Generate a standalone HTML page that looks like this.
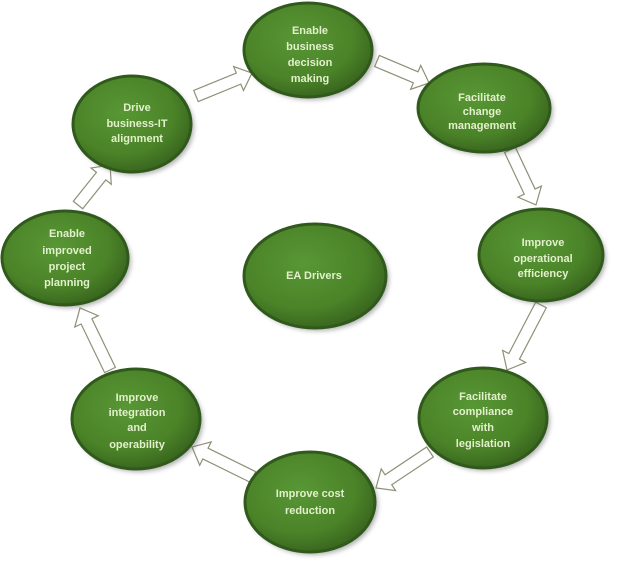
<!DOCTYPE html>
<html>
<head>
<meta charset="utf-8">
<style>
  html, body { margin:0; padding:0; background:#ffffff; }
  svg { display:block; }
  text { font-family: "Liberation Sans", sans-serif; font-weight:bold; font-size:11px; fill:#e2f0cc; text-anchor:middle; }
  .arrow { fill:#ffffff; stroke:#8d9177; stroke-width:1.2; }
</style>
</head>
<body>
<svg width="618" height="562" viewBox="0 0 618 562" xmlns="http://www.w3.org/2000/svg">
  <defs>
    <radialGradient id="g" cx="42%" cy="38%" r="62%">
      <stop offset="0%" stop-color="#589735"/>
      <stop offset="70%" stop-color="#4b8328"/>
      <stop offset="100%" stop-color="#3a681f"/>
    </radialGradient>
    <filter id="sh" x="-20%" y="-20%" width="140%" height="140%">
      <feGaussianBlur stdDeviation="2.5"/>
    </filter>
  </defs>

  <!-- arrows -->
  <g transform="translate(196,96) rotate(-22.3)"><polygon class="arrow" points="0,-6 46,-6 46,-13 60.5,0 46,13 46,6 0,6"/></g>
  <g transform="translate(377,61) rotate(22.9)"><polygon class="arrow" points="0,-6 42,-6 42,-13 56.5,0 42,13 42,6 0,6"/></g>
  <g transform="translate(510,150) rotate(64.7)"><polygon class="arrow" points="0,-6 46,-6 46,-13 60.8,0 46,13 46,6 0,6"/></g>
  <g transform="translate(541,305) rotate(117.6)"><polygon class="arrow" points="0,-6 58,-6 58,-13 73.4,0 58,13 58,6 0,6"/></g>
  <g transform="translate(430,452) rotate(146.3)"><polygon class="arrow" points="0,-6 50,-6 50,-13 64.9,0 50,13 50,6 0,6"/></g>
  <g transform="translate(253,477) rotate(206.2)"><polygon class="arrow" points="0,-6 53,-6 53,-13 68,0 53,13 53,6 0,6"/></g>
  <g transform="translate(110,370) rotate(-115.8)"><polygon class="arrow" points="0,-6 54,-6 54,-13 68.9,0 54,13 54,6 0,6"/></g>
  <g transform="translate(78,205) rotate(-51.3)"><polygon class="arrow" points="0,-6 37,-6 37,-13 51.2,0 37,13 37,6 0,6"/></g>

  <!-- shadows -->
  <g fill="#555" opacity="0.45" filter="url(#sh)">
    <ellipse cx="311" cy="53" rx="64" ry="47"/>
    <ellipse cx="487" cy="111" rx="66" ry="44"/>
    <ellipse cx="544" cy="258" rx="62" ry="46"/>
    <ellipse cx="486" cy="421" rx="64" ry="50"/>
    <ellipse cx="313" cy="505" rx="65" ry="50"/>
    <ellipse cx="139" cy="422" rx="64" ry="50"/>
    <ellipse cx="68" cy="261" rx="63" ry="47"/>
    <ellipse cx="135" cy="127" rx="59" ry="48"/>
    <ellipse cx="318" cy="279" rx="71" ry="52"/>
  </g>

  <!-- ellipses -->
  <g fill="url(#g)" stroke="#30591c" stroke-width="3">
    <ellipse cx="308" cy="50" rx="64" ry="47"/>
    <ellipse cx="484" cy="108" rx="66" ry="44"/>
    <ellipse cx="541" cy="255" rx="62" ry="46"/>
    <ellipse cx="483" cy="418" rx="64" ry="50"/>
    <ellipse cx="310" cy="502" rx="65" ry="50"/>
    <ellipse cx="136" cy="419" rx="64" ry="50"/>
    <ellipse cx="65" cy="258" rx="63" ry="47"/>
    <ellipse cx="132" cy="124" rx="59" ry="48"/>
    <ellipse cx="315" cy="276" rx="71" ry="52"/>
  </g>

  <!-- labels -->
  <text x="310" y="34">Enable</text>
  <text x="310" y="50">business</text>
  <text x="310" y="66">decision</text>
  <text x="310" y="82">making</text>

  <text x="482" y="101">Facilitate</text>
  <text x="482" y="115">change</text>
  <text x="482" y="129">management</text>

  <text x="543" y="246">Improve</text>
  <text x="543" y="262">operational</text>
  <text x="543" y="277">efficiency</text>

  <text x="483" y="400">Facilitate</text>
  <text x="483" y="415">compliance</text>
  <text x="483" y="431">with</text>
  <text x="483" y="447">legislation</text>

  <text x="310" y="497">Improve cost</text>
  <text x="310" y="514">reduction</text>

  <text x="137" y="401">Improve</text>
  <text x="137" y="416">integration</text>
  <text x="137" y="431">and</text>
  <text x="137" y="448">operability</text>

  <text x="67" y="237">Enable</text>
  <text x="67" y="254">improved</text>
  <text x="67" y="270">project</text>
  <text x="67" y="286">planning</text>

  <text x="137" y="111">Drive</text>
  <text x="137" y="127">business-IT</text>
  <text x="137" y="142">alignment</text>

  <text x="314" y="279">EA Drivers</text>
</svg>
</body>
</html>
